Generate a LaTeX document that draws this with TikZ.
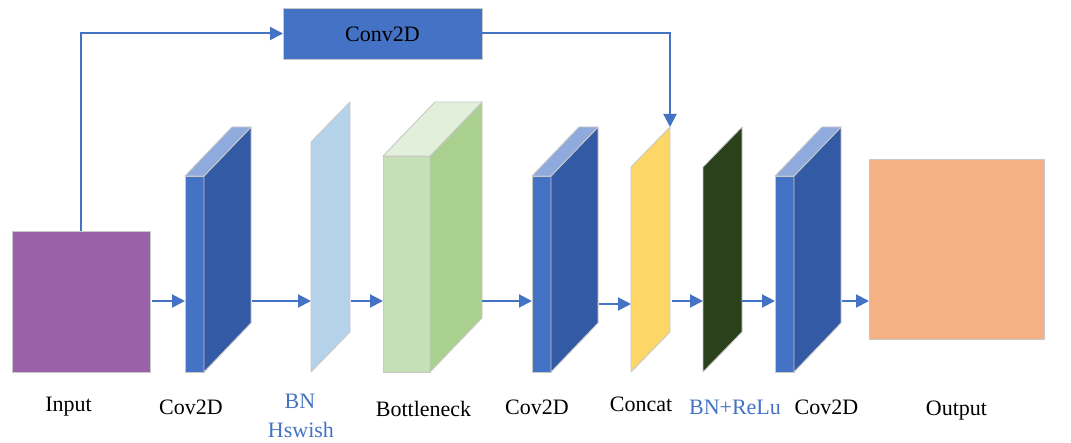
\documentclass[tikz,border=0pt]{standalone}
\usepackage{fontspec}
\setmainfont{Liberation Serif}
\usetikzlibrary{arrows.meta}

\definecolor{inputfill}{RGB}{153,97,167}
\definecolor{outputfill}{RGB}{244,177,131}
\definecolor{convfront}{RGB}{68,114,196}
\definecolor{convside}{RGB}{51,90,164}
\definecolor{convtop}{RGB}{143,170,220}
\definecolor{bnfill}{RGB}{181,210,235}
\definecolor{bfront}{RGB}{197,224,180}
\definecolor{bside}{RGB}{169,208,142}
\definecolor{btop}{RGB}{226,239,218}
\definecolor{catfill}{RGB}{252,215,103}
\definecolor{relufill}{RGB}{43,65,27}
\definecolor{edgegray}{RGB}{200,200,200}
\definecolor{linkblue}{RGB}{68,114,196}

\tikzset{
  hold/.style={inner sep=0pt, outer sep=0pt},
  face/.style={draw=edgegray, line width=0.9pt, line join=round},
  plate/.style={face, inner sep=0pt, outer sep=0pt},
  arr/.style={draw=linkblue, line width=2pt, -{Triangle[length=13pt,width=13pt]}},
  lbl/.style={font=\fontsize{22}{26}\selectfont, anchor=base, inner sep=0pt},
  bluelbl/.style={lbl, text=linkblue},
}

% 3-D convolution slab: front face 19 wide, 196 tall, depth (47,49)
\newcommand\convslab[2]{%
  \node[hold, minimum width=67pt, minimum height=245pt, anchor=south west] (#1) at (#2,372) {};
  \draw[face, fill=convfront] (#1.south west) rectangle ++(19,-196);
  \draw[face, fill=convside] ([xshift=19pt]#1.south west) -- ++(0,-196) -- ++(47,-49) -- ++(0,196) -- cycle;
  \draw[face, fill=convtop] ([yshift=196pt]#1.south west) -- ++(47,-49) -- ++(19,0) -- ++(-47,49) -- cycle;
}

% thin slanted sheet: 39 wide, slant 40
\newcommand\sheet[4]{%
  \node[hold, minimum width=39pt, minimum height={372-#3}, anchor=south west] (#1) at (#2,372) {};
  \draw[face, fill=#4] (#1.south west) -- ([yshift=-40pt]#1.north west) -- (#1.north east)
    -- ([yshift=40pt]#1.south east) -- cycle;
}

\begin{document}
\begin{tikzpicture}[x=1pt, y=-1pt]
\useasboundingbox (0,0) rectangle (1071,443);

% input and output maps
\node[plate, fill=inputfill, minimum width=138pt, minimum height=141pt, anchor=north west] (input) at (12,231) {};
\node[plate, fill=outputfill, minimum width=175pt, minimum height=180pt, anchor=north west] (output) at (869,159) {};

% side branch convolution
\node[plate, fill=convfront, minimum width=199pt, minimum height=51pt, anchor=north west] (conv) at (283,8) {};
\node[lbl] (convtxt) at (382.5,41.5) {Conv2D};

% main path layers
\convslab{c1}{185}
\sheet{bn}{311}{102}{bnfill}

% bottleneck block
\node[hold, minimum width=99pt, minimum height=270pt, anchor=south west] (bneck) at (383,372) {};
\draw[face, fill=bfront] (bneck.south west) rectangle ++(47,-216);
\draw[face, fill=bside] ([xshift=47pt]bneck.south west) -- ++(0,-216) -- ++(52,-54) -- ++(0,216) -- cycle;
\draw[face, fill=btop] ([yshift=216pt]bneck.south west) -- ++(52,-54) -- ++(47,0) -- ++(-52,54) -- cycle;

\convslab{c2}{532}
\sheet{cat}{631}{127}{catfill}
\sheet{relu}{703}{127}{relufill}
\convslab{c3}{775}

% connectors
\draw[arr] (input.north) -- (input.north |- conv.west) -- (conv.west);
\draw[arr] (conv.east) -- (cat.north east |- conv.east) -- (cat.north east);
\draw[arr, shorten <=2pt] (input.east |- 0,301) -- (c1.west |- 0,301);
\draw[arr] (c1.east |- 0,301) -- (bn.west |- 0,301);
\draw[arr, shorten <=1pt] (bn.east |- 0,301) -- (bneck.west |- 0,301);
\draw[arr] (bneck.east |- 0,301) -- (c2.west |- 0,301);
\draw[arr] (c2.east |- 0,304) -- (cat.west |- 0,304);
\draw[arr, shorten <=2pt] (cat.east |- 0,301) -- (relu.west |- 0,301);
\draw[arr] (relu.east |- 0,301) -- (c3.west |- 0,301);
\draw[arr] (c3.east |- 0,301) -- (output.west |- 0,301);

% captions
\node[lbl] (tin) at (68.5,412) {Input};
\node[lbl] (tc1) at (191,415) {Cov2D};
\node[bluelbl] (tbn) at (300,409) {BN};
\node[bluelbl] (ths) at (301,438) {Hswish};
\node[lbl] (tbk) at (423.5,417) {Bottleneck};
\node[lbl] (tc2) at (537,415) {Cov2D};
\node[lbl] (tcat) at (641,412) {Concat};
\node[bluelbl] (trelu) at (735,415) {BN+ReLu};
\node[lbl] (tc3) at (826.5,415) {Cov2D};
\node[lbl] (tout) at (956.5,416) {Output};
\end{tikzpicture}
\end{document}
